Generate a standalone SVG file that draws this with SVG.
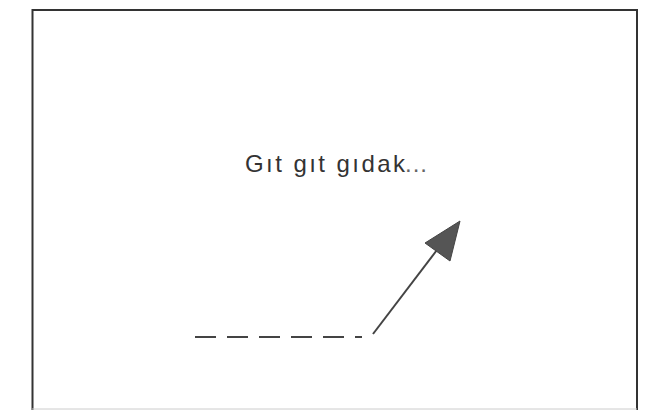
<svg xmlns="http://www.w3.org/2000/svg" width="659" height="410" viewBox="0 0 659 410">
<defs>
<style>
.frame{fill:none;stroke:#333;stroke-width:2}
.lbl{font-family:"Liberation Sans",Arial,sans-serif;font-size:24px;fill:#333}
.conn{stroke:#444;stroke-width:2;fill:none}
</style>
</defs>
<rect width="659" height="410" fill="#fff"/>
<g id="frame">
<path class="frame" d="M32.5,410 V10 H637 V410"/>
<line x1="32" y1="409" x2="637" y2="409" stroke="#ccc" stroke-width="1"/>
</g>
<g id="label">
<text class="lbl" x="245" y="172"><tspan textLength="160" lengthAdjust="spacing">Gıt gıt gıdak</tspan><tspan x="405" fill="#666" letter-spacing="1">...</tspan></text>
</g>
<g id="connectors">
<line class="conn" x1="195" y1="337" x2="362" y2="337" stroke-dasharray="21 11"/>
<line class="conn" x1="373" y1="334" x2="440" y2="246"/>
<path d="M460,221 L425,243 L450,261 z" fill="#555" stroke="#444" stroke-width="1"/>
</g>
</svg>
